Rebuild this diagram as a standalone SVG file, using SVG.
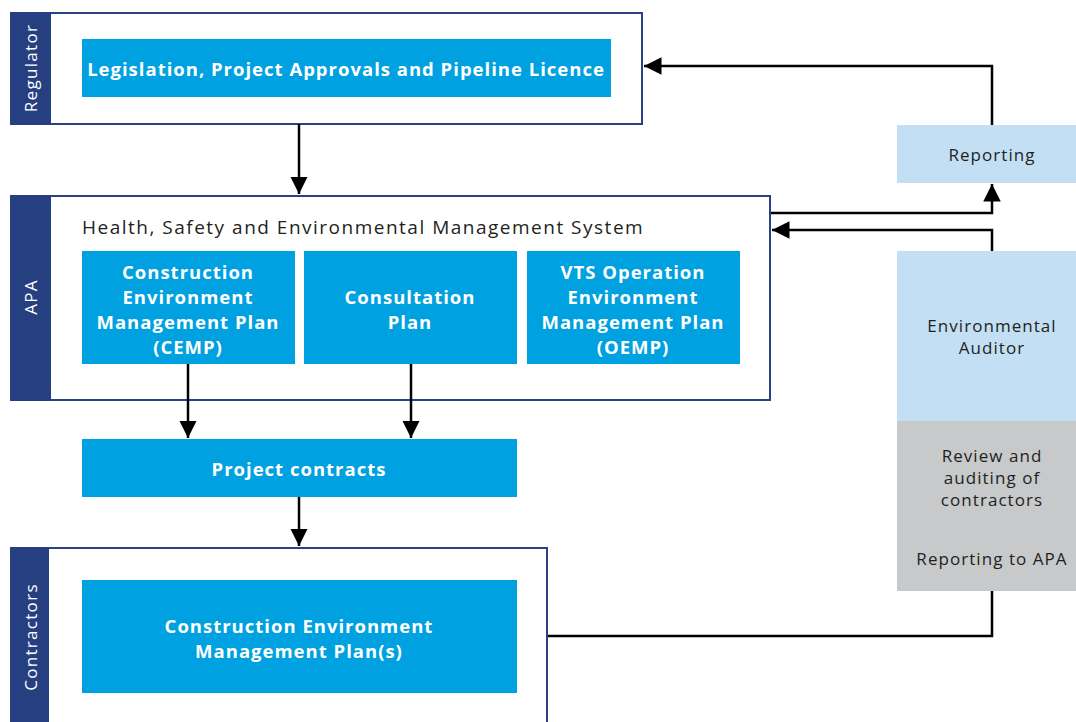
<svg xmlns="http://www.w3.org/2000/svg" width="1076" height="722" viewBox="0 0 1076 722">
<defs>
<style>
.frame{fill:#fff;stroke:#2a4185;stroke-width:2}
.band{fill:#263f80}
.blue{fill:#00a1e0}
.lb{fill:#c2dff4}
.gr{fill:#c8c9cb}
.side{font-family:"Open Sans",sans-serif;font-size:17px;fill:#fff;text-anchor:middle;letter-spacing:1.3px}
.bt{font-family:"Open Sans",sans-serif;font-weight:bold;font-size:18.5px;fill:#fff;text-anchor:middle;letter-spacing:1px}
.rt{font-family:"Open Sans",sans-serif;font-size:17px;fill:#231f20;text-anchor:middle;letter-spacing:1.05px}
.title{font-family:"Open Sans",sans-serif;font-size:19px;fill:#231f20;letter-spacing:1.5px}
.ln{fill:none;stroke:#000;stroke-width:2.5}
</style>
<marker id="ah" viewBox="0 0 10 10" refX="10" refY="5" markerWidth="7" markerHeight="7" markerUnits="strokeWidth" orient="auto">
<path d="M0,0 L10,5 L0,10 Z" fill="#000"/>
</marker>
</defs>

<g id="regulator">
<rect class="frame" x="11" y="13" width="631" height="111"/>
<rect class="band" x="10" y="12" width="41" height="113"/>
<text class="side" transform="translate(37,68) rotate(-90)">Regulator</text>
<rect class="blue" x="82" y="39" width="529" height="58"/>
<text class="bt" x="346" y="76">Legislation, Project Approvals and Pipeline Licence</text>
</g>

<g id="apa">
<rect class="frame" x="11" y="196" width="759" height="204"/>
<rect class="band" x="10" y="195" width="41" height="206"/>
<text class="side" transform="translate(37,297) rotate(-90)">APA</text>
<text class="title" x="82" y="234">Health, Safety and Environmental Management System</text>
</g>

<g id="cemp">
<rect class="blue" x="82" y="251" width="213" height="113"/>
<text class="bt" x="188" y="279">Construction</text>
<text class="bt" x="188" y="304">Environment</text>
<text class="bt" x="188" y="329">Management Plan</text>
<text class="bt" x="188" y="354">(CEMP)</text>
</g>

<g id="consultation">
<rect class="blue" x="304" y="251" width="213" height="113"/>
<text class="bt" x="410" y="304">Consultation</text>
<text class="bt" x="410" y="329">Plan</text>
</g>

<g id="oemp">
<rect class="blue" x="527" y="251" width="213" height="113"/>
<text class="bt" x="633" y="279">VTS Operation</text>
<text class="bt" x="633" y="304">Environment</text>
<text class="bt" x="633" y="329">Management Plan</text>
<text class="bt" x="633" y="354">(OEMP)</text>
</g>

<g id="contracts">
<rect class="blue" x="82" y="439" width="435" height="58"/>
<text class="bt" x="299" y="476">Project contracts</text>
</g>

<g id="contractors">
<rect class="frame" x="11" y="548" width="536" height="180"/>
<rect class="band" x="10" y="547" width="39" height="180"/>
<text class="side" transform="translate(37,637) rotate(-90)">Contractors</text>
<rect class="blue" x="82" y="580" width="435" height="113"/>
<text class="bt" x="299" y="633">Construction Environment</text>
<text class="bt" x="299" y="658">Management Plan(s)</text>
</g>

<g id="reporting">
<rect class="lb" x="897" y="125" width="179" height="58"/>
<text class="rt" x="992" y="161">Reporting</text>
</g>

<g id="auditor">
<rect class="lb" x="897" y="251" width="179" height="170"/>
<rect class="gr" x="897" y="421" width="179" height="170"/>
<text class="rt" x="992" y="332">Environmental</text>
<text class="rt" x="992" y="354">Auditor</text>
<text class="rt" x="992" y="462">Review and</text>
<text class="rt" x="992" y="484">auditing of</text>
<text class="rt" x="992" y="506">contractors</text>
<text class="rt" x="992" y="565">Reporting to APA</text>
</g>

<g id="connectors">
<path class="ln" d="M299,124 V194" marker-end="url(#ah)"/>
<path class="ln" d="M188,364 V438" marker-end="url(#ah)"/>
<path class="ln" d="M411,364 V438" marker-end="url(#ah)"/>
<path class="ln" d="M299,497 V546" marker-end="url(#ah)"/>
<path class="ln" d="M992,125 V66 H644" marker-end="url(#ah)"/>
<path class="ln" d="M771,213 H992 V184" marker-end="url(#ah)"/>
<path class="ln" d="M992,251 V230 H772" marker-end="url(#ah)"/>
<path class="ln" d="M992,591 V636 H548"/>
</g>
</svg>
